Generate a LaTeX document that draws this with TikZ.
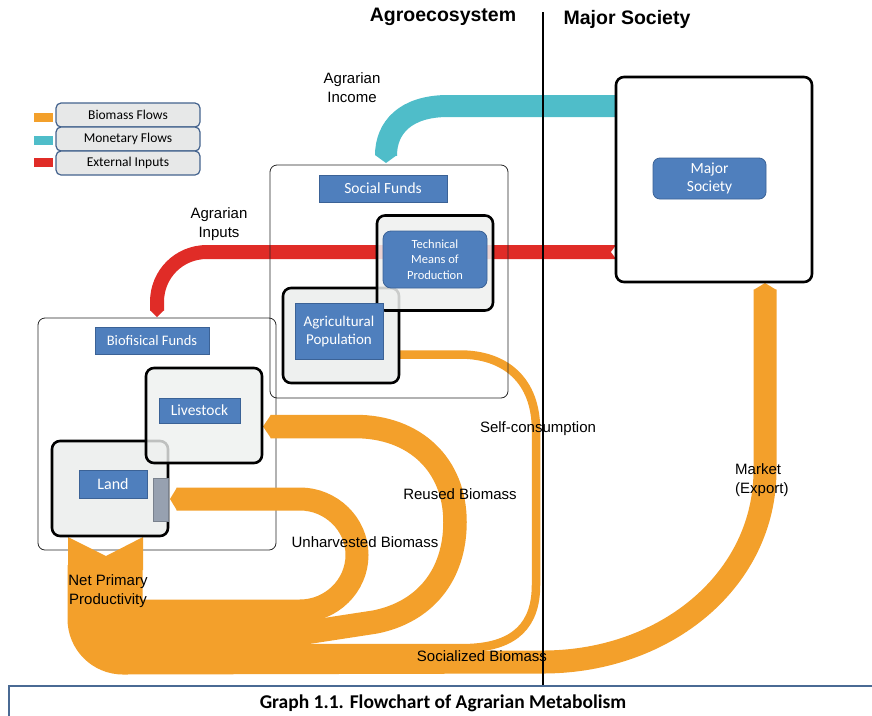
\documentclass[tikz,border=0pt]{standalone}
\usepackage{fontspec}
\setmainfont{Liberation Sans}
\newfontfamily\carl{Carlito}
\definecolor{orflow}{HTML}{F3A02B}
\definecolor{cyflow}{HTML}{4FBDC9}
\definecolor{rdflow}{HTML}{E02C27}
\definecolor{bluefill}{HTML}{4F7FBD}
\definecolor{blueedge}{HTML}{3B6296}
\definecolor{contfill}{HTML}{EEF0EF}
\definecolor{legfill}{HTML}{E7E8E8}
\definecolor{legedge}{HTML}{44638E}
\definecolor{barfill}{HTML}{97A1B0}
\definecolor{capedge}{HTML}{4A6A94}
\begin{document}
\begin{tikzpicture}[x=1pt,y=-1pt,
  container/.style={draw=black,line width=2.6pt,fill=contfill,rounded corners=8pt,inner sep=0pt,minimum width=116pt,minimum height=95pt},
  bluelab/.style={fill=bluefill,draw=blueedge,line width=0.8pt,text=white,inner sep=0pt,align=center},
  legbox/.style={fill=legfill,draw=legedge,line width=1.2pt,rounded corners=5pt,inner sep=0pt,minimum width=144pt,minimum height=24pt,font=\carl\fontsize{13.5}{15}\selectfont},
  swatch/.style={inner sep=0pt,minimum width=19pt,minimum height=9pt},
  flowlabel/.style={font=\fontsize{15}{19}\selectfont,align=center,inner sep=0pt},
  band/.style={draw=orflow,line cap=butt,line join=miter},
  tip/.style={fill=#1,draw=none}
]
\useasboundingbox (0,0) rectangle (872,715);

% outer thin box (biofisical funds)
\node[draw=black!85,line width=0.8pt,rounded corners=7pt,minimum width=238pt,minimum height=232pt,inner sep=0pt] (bfouter) at (157,434) {};

% ---- red flow: external inputs
\draw[draw=rdflow,line width=14pt,line cap=butt] (616,252) coordinate (redstart) -- (207,252) .. controls (179,252) and (157,274) .. (157,302) -- (157,310.5) coordinate (redend);
\fill[tip=rdflow] (150,310) -- (157,317) -- (164,310) -- cycle;
\fill[white] (617,244) -- (611,252) -- (617,260) -- cycle;

% ---- cyan flow: monetary
\draw[draw=cyflow,line width=22pt,line cap=butt] (616,106) coordinate (cystart) -- (448,106) .. controls (405,106) and (386,128) .. (386,155.5) coordinate (cyend);
\fill[tip=cyflow] (375,155) -- (386,163) -- (397,155) -- cycle;

% ---- orange flows
% swallowtail of net primary productivity
\fill[orflow] (68,537) -- (106,556) -- (143,537) -- (143,570) -- (68,570) -- cycle;
% socialized biomass -> market
\draw[band,line width=23pt] (79,565) -- (79,619) .. controls (79,643.3) and (98.7,663) .. (123,663) -- (545,662) .. controls (666,661) and (765,580) .. (765,470) -- (765,289.5) coordinate (mkend);
\fill[tip=orflow] (753.5,290) -- (765,283) -- (776.5,290) -- cycle;
% self-consumption
\draw[band,line width=8.5pt] (93.5,565) -- (93.5,619) .. controls (93.5,635.3) and (106.7,648.5) .. (123,648.5) -- (470,648) .. controls (515,646) and (536,625) .. (536,585) -- (536,430) .. controls (536,380) and (505,354.5) .. (460,354.5) -- (400,354.5) coordinate (selfend);
% reused biomass
\draw[band,line width=23.5pt] (108.5,565) -- (108.5,619) .. controls (108.5,627) and (115,633.5) .. (123,633.5) -- (300,633.5) -- (375,622) .. controls (425,612) and (455,575) .. (455,522) .. controls (455,465) and (415,426.5) .. (355,426.5) -- (270.5,426.5) coordinate (reend);
\fill[tip=orflow] (271,414.75) -- (263,426.5) -- (271,438.25) -- cycle;
% unharvested biomass
\draw[band,line width=23pt] (131,565) -- (131,611) -- (300,611) .. controls (331,611) and (357,586) .. (357,555) .. controls (357,524) and (331,499) .. (300,499) -- (176.5,499) coordinate (unend);
\fill[tip=orflow] (177,487.5) -- (170,499) -- (177,510.5) -- cycle;

% outer thin box (social funds)
\node[draw=black!85,line width=0.8pt,rounded corners=7pt,minimum width=238pt,minimum height=233pt,inner sep=0pt] (sfouter) at (389,281.5) {};

% divider and caption frame
\draw[line width=1.6pt] (543,12) coordinate (divtop) -- (543,686) coordinate (divbot);
\draw[capedge,line width=1.3pt] (9,716) -- (9,686) -- (873,686);

% ---- containers
\node[container] (agri) at (341,335.5) {};
\node[container,fill opacity=0.85] (tech) at (435,263) {};
\node[container] (land) at (110,488.5) {};
\node[container,fill opacity=0.8] (live) at (204,415.5) {};
\node[draw=black,line width=2.6pt,fill=white,rounded corners=8pt,minimum width=196pt,minimum height=205pt,inner sep=0pt] (major) at (714,179.5) {};

% ---- blue labels
\node[bluelab,minimum width=128pt,minimum height=27pt,font=\carl\fontsize{15.5}{17}\selectfont] (sf) at (383,188.5) {Social Funds};
\node[bluelab,rounded corners=8pt,minimum width=104pt,minimum height=57pt,font=\carl\fontsize{12.5}{15.5}\selectfont] (techl) at (435,259.5) {Technical\\Means of\\Production};
\node[bluelab,minimum width=88pt,minimum height=56pt,font=\carl\fontsize{15}{18}\selectfont] (agril) at (339,331) {Agricultural\\Population};
\node[bluelab,minimum width=114pt,minimum height=27pt,font=\carl\fontsize{14.5}{16}\selectfont] (bf) at (152,340.5) {Biofisical Funds};
\node[bluelab,minimum width=81pt,minimum height=25pt,font=\carl\fontsize{15.5}{17}\selectfont] (livel) at (199.5,410.5) {Livestock};
\node[bluelab,minimum width=68pt,minimum height=28pt,font=\carl\fontsize{16}{17}\selectfont] (landl) at (113,484) {Land};
\node[bluelab,rounded corners=7pt,minimum width=113pt,minimum height=41pt,font=\carl\fontsize{15.5}{18}\selectfont] (majorl) at (709.5,178.5) {Major\\Society};
\node[fill=barfill,draw=barfill!80!black,line width=0.6pt,inner sep=0pt,minimum width=15pt,minimum height=43pt] (bar) at (160.5,499.5) {};

% ---- legend
\node[legbox] (lg1) at (128,115) {Biomass Flows};
\node[legbox] (lg2) at (128,139) {Monetary Flows};
\node[legbox] (lg3) at (128,163) {External Inputs};
\node[swatch,fill=orflow] (sw1) at (43.5,117.5) {};
\node[swatch,fill=cyflow] (sw2) at (43.5,140.5) {};
\node[swatch,fill=rdflow] (sw3) at (43.5,162.5) {};

% ---- titles and labels
\node[font=\bfseries\fontsize{19.5}{22}\selectfont,inner sep=0pt] (tagro) at (443,17) {Agroecosystem};
\node[font=\bfseries\fontsize{19.5}{22}\selectfont,inner sep=0pt] (tmajor) at (627,19) {Major Society};
\node[flowlabel] (lincome) at (352,88) {Agrarian\\Income};
\node[flowlabel] (linputs) at (219,224) {Agrarian\\Inputs};
\node[flowlabel] (lself) at (538,429) {Self-consumption};
\node[flowlabel] (lreused) at (460,494) {Reused Biomass};
\node[flowlabel] (lunh) at (365,542) {Unharvested Biomass};
\node[flowlabel] (lnpp) at (108,591) {Net Primary\\Productivity};
\node[flowlabel] (lsoc) at (482,656) {Socialized Biomass};
\node[flowlabel,align=left,anchor=west] (lmarket) at (735,480) {Market\\(Export)};
\node[font=\carl\bfseries\fontsize{19.5}{22}\selectfont,inner sep=0pt] (caption) at (443,703) {Graph 1.1. Flowchart of Agrarian Metabolism};
\end{tikzpicture}
\end{document}
